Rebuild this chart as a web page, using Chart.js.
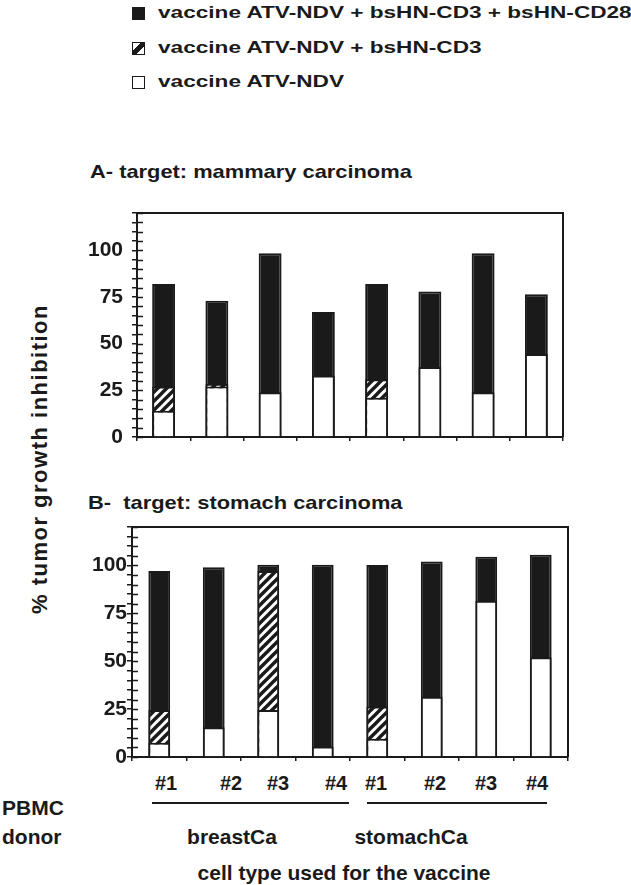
<!DOCTYPE html>
<html lang="en">
<head>
  <meta charset="UTF-8" />
  <title>Tumor growth inhibition</title>
  <script src="https://cdn.jsdelivr.net/npm/chart.js"></script>
  <style>
    body{margin:0;background:#fff;font-family:"Liberation Sans",Arial,Helvetica,sans-serif;color:#1a1a1a}
    #page{position:relative;width:631px;height:885px;overflow:hidden}
    .txt{position:absolute;font-weight:bold;white-space:nowrap;line-height:1}
    .leg{position:absolute;left:132px;height:20px;display:flex;align-items:center}
    .sw{width:11px;height:11px;border:1.5px solid #1a1a1a;flex:none}
    .leg span{font-size:17px;font-weight:bold;margin-left:13px;transform:scaleX(1.33);transform-origin:left center;white-space:nowrap}
    .ttl{font-size:19px;transform:scaleX(1.15);transform-origin:left top}
    .donor{font-size:20px;transform:translateX(-50%)}
    .under{position:absolute;height:2px;background:#1a1a1a}
    canvas{position:absolute;left:0}
  </style>
</head>
<body>
<div id="page">
  <div class="leg" style="top:3px"><div class="sw" style="background:#1a1a1a"></div><span>vaccine ATV-NDV + bsHN-CD3 + bsHN-CD28</span></div>
  <div class="leg" style="top:38px"><div class="sw" style="background:linear-gradient(135deg,#fff 36%,#1a1a1a 36%,#1a1a1a 64%,#fff 64%)"></div><span>vaccine ATV-NDV + bsHN-CD3</span></div>
  <div class="leg" style="top:72px"><div class="sw" style="background:#fff"></div><span>vaccine ATV-NDV</span></div>

  <div class="txt ttl" style="left:90px;top:162px">A- target: mammary carcinoma</div>
  <div class="txt ttl" style="left:88px;top:493px">B-&nbsp; target: stomach carcinoma</div>

  <div class="txt" style="left:40px;top:459px;font-size:22px;letter-spacing:1.5px;transform:translate(-50%,-50%) rotate(-90deg)">% tumor growth inhibition</div>

  <canvas id="chartA" width="631" height="252" style="top:195px"></canvas>
  <canvas id="chartB" width="631" height="262" style="top:505px"></canvas>

  <div id="donors"></div>
  <div class="under" style="left:152px;top:802px;width:197px"></div>
  <div class="under" style="left:367px;top:802px;width:180px"></div>
  <div class="txt" style="left:2px;top:797px;font-size:21px">PBMC</div>
  <div class="txt" style="left:2px;top:826px;font-size:21px">donor</div>
  <div id="cells"></div>
  <div class="txt" style="left:344px;top:862px;font-size:21px;transform:translateX(-50%)">cell type used for the vaccine</div>
</div>

<script>
/* ---------- datos ---------- */
const donors = ['#1','#2','#3','#4','#1','#2','#3','#4'];
const vaccineCells = ['breastCa','stomachCa'];
const yLabels = [0,25,50,75,100];

// A - target: mammary carcinoma
const ndvA   = [14, 27, 24, 33, 21, 37.5, 24, 44.5];
const cd3A   = [27, 28.5, null, null, 31, null, null, null];
const cd28A  = [82, 73, 98.5, 67, 82, 78, 98.5, 76.5];

// B - target: stomach carcinoma
const ndvB   = [7.5, 15.5, 24.5, 5.5, 9.5, 31.5, 81.5, 52];
const cd3B   = [24.5, null, 97, null, 26.3, null, null, null];
const cd28B  = [97, 99, 100.3, 100.3, 100.2, 102, 104.5, 105.5];

/* ---------- estilos ---------- */
const ink = '#1a1a1a';
const font = {family:'"Liberation Sans", Arial, sans-serif', weight:'bold', size:21};

function hatch(){
  const c = document.createElement('canvas'); c.width = c.height = 9;
  const g = c.getContext('2d');
  g.fillStyle = '#fff'; g.fillRect(0,0,9,9);
  g.strokeStyle = ink; g.lineWidth = 3.4; g.lineCap = 'square';
  g.beginPath();
  g.moveTo(-1,10); g.lineTo(10,-1);
  g.moveTo(-5,5); g.lineTo(5,-5);
  g.moveTo(4,14); g.lineTo(14,4);
  g.stroke();
  return g.createPattern(c,'repeat');
}

// marco superior/derecho y la parte interior de las marcas del eje y
const frame = {
  id:'frame',
  afterDatasetsDraw(chart){
    const {ctx, chartArea:a, scales:{y}} = chart;
    ctx.save();
    ctx.strokeStyle = ink;
    ctx.lineWidth = 1.5;
    ctx.beginPath();
    y.ticks.forEach(t => {
      const py = Math.round(y.getPixelForValue(t.value)) + 0.5;
      ctx.moveTo(a.left, py); ctx.lineTo(a.left + 6, py);
    });
    ctx.stroke();
    ctx.lineWidth = 2;
    ctx.beginPath();
    ctx.moveTo(a.left, a.top); ctx.lineTo(a.right, a.top); ctx.lineTo(a.right, a.bottom);
    ctx.stroke();
    ctx.restore();
  }
};

function panel(id, white, striped, black, g){
  const bar = {barPercentage:g.bar, categoryPercentage:1, grouped:false, borderColor:ink, borderWidth:2};
  return new Chart(document.getElementById(id), {
    type:'bar',
    data:{
      labels:donors,
      datasets:[
        {label:'vaccine ATV-NDV', data:white, backgroundColor:'#fff', ...bar},
        {label:'vaccine ATV-NDV + bsHN-CD3', data:striped, backgroundColor:hatch(), ...bar},
        {label:'vaccine ATV-NDV + bsHN-CD3 + bsHN-CD28', data:black, backgroundColor:ink, ...bar}
      ]
    },
    options:{
      responsive:false, animation:false, devicePixelRatio:1,
      layout:{padding:{left:0, right:g.right, top:g.top, bottom:0}},
      plugins:{legend:{display:false}, tooltip:{enabled:false}},
      scales:{
        x:{
          ticks:{display:false},
          grid:{drawOnChartArea:false, tickLength:4, color:ink, lineWidth:1.5},
          border:{display:true, color:ink, width:2},
          afterFit:s=>{s.height = 10;}
        },
        y:{
          min:0, max:120,
          ticks:{stepSize:5, autoSkip:false, color:ink, font, padding:g.pad,
                 callback:v => yLabels.includes(v) ? v : ''},
          grid:{drawOnChartArea:false, tickLength:5, color:ink, lineWidth:1.5},
          border:{display:true, color:ink, width:2},
          afterFit:s=>{s.width = g.left; s.paddingTop = 0; s.paddingBottom = 0;}
        }
      }
    },
    plugins:[frame]
  });
}

panel('chartA', ndvA, cd3A, cd28A, {left:137, right:68, top:18, bar:0.43, pad:9});
panel('chartB', ndvB, cd3B, cd28B, {left:132, right:63, top:22, bar:0.40, pad:0});

/* ---------- rótulos de abajo ---------- */
const donorX = [166, 231, 278, 336, 376, 435, 486, 537];
document.getElementById('donors').innerHTML =
  donors.map((d,i)=>`<div class="txt donor" style="left:${donorX[i]}px;top:773px">${d}</div>`).join('');
const cellX = [232, 411];
document.getElementById('cells').innerHTML =
  vaccineCells.map((c,i)=>`<div class="txt" style="left:${cellX[i]}px;top:826px;font-size:21px;transform:translateX(-50%)">${c}</div>`).join('');
</script>
</body>
</html>
